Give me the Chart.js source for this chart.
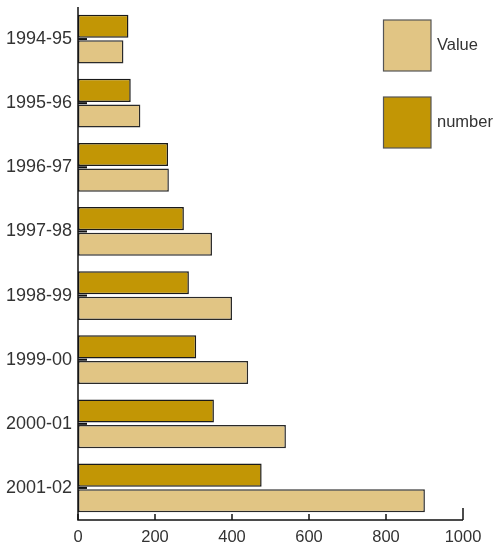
<!DOCTYPE html>
<html>
<head>
<meta charset="utf-8">
<script src="https://cdn.jsdelivr.net/npm/chart.js@4.4.0/dist/chart.umd.min.js"></script>
<style>
html,body{margin:0;padding:0;background:#fff;}
#wrap{position:relative;width:498px;height:549px;}
</style>
</head>
<body>
<div id="wrap"><canvas id="c" width="498" height="549"></canvas></div>
<script>
const categories = ["1994-95","1995-96","1996-97","1997-98","1998-99","1999-00","2000-01","2001-02"];
const numberValues = [131, 137, 234, 275, 288, 307, 353, 477];
const valueValues = [118, 162, 236, 348, 400, 442, 540, 901];
const xTicks = [0, 200, 400, 600, 800, 1000];

const LIGHT = "rgb(225,197,132)";
const DARK = "rgb(194,150,5)";
const TEXT = "#333333";
const FONT = "'Liberation Sans', Arial, sans-serif";

const inwardTicks = {
  id: "inwardTicks",
  beforeDatasetsDraw(chart) {
    const ctx = chart.ctx;
    const ys = chart.scales.y;
    ctx.save();
    ctx.strokeStyle = "#111";
    ctx.lineWidth = 2;
    categories.forEach((c, i) => {
      const py = ys.getPixelForValue(i);
      ctx.beginPath();
      ctx.moveTo(ys.right, py);
      ctx.lineTo(ys.right + 9, py);
      ctx.stroke();
    });
    ctx.restore();
  },
  afterDraw(chart) {
    const ctx = chart.ctx;
    const xs = chart.scales.x;
    const ys = chart.scales.y;
    ctx.save();
    ctx.strokeStyle = "#111";
    ctx.lineWidth = 1.5;
    ctx.beginPath();
    ctx.moveTo(xs.left, ys.top);
    ctx.lineTo(xs.left, xs.top);
    ctx.lineTo(xs.right, xs.top);
    ctx.stroke();
    xTicks.forEach((v, i) => {
      const px = xs.getPixelForValue(v);
      const len = (i === xTicks.length - 1) ? 12 : 6;
      ctx.beginPath();
      ctx.moveTo(px, xs.top);
      ctx.lineTo(px, xs.top - len);
      ctx.stroke();
    });
    const order = [1, 0];
    const boxL = 383.5, boxW = 47.5, boxH = 51;
    const tops = [20, 97];
    ctx.font = "16.5px " + FONT;
    ctx.textBaseline = "middle";
    order.forEach((di, k) => {
      const ds = chart.data.datasets[di];
      const t = tops[k];
      ctx.fillStyle = ds.backgroundColor;
      ctx.fillRect(boxL, t, boxW, boxH);
      ctx.strokeStyle = "#555";
      ctx.lineWidth = 1.2;
      ctx.strokeRect(boxL, t, boxW, boxH);
      ctx.fillStyle = TEXT;
      ctx.textAlign = "left";
      ctx.fillText(ds.label, 437, t + boxH / 2);
    });
    ctx.restore();
  }
};

new Chart(document.getElementById("c"), {
  type: "bar",
  data: {
    labels: categories,
    datasets: [
      { label: "number", data: numberValues, backgroundColor: DARK, borderColor: "#1a1a1a", borderWidth: 1.5, borderSkipped: false },
      { label: "Value", data: valueValues, backgroundColor: LIGHT, borderColor: "#2a2a2a", borderWidth: 1.5, borderSkipped: false }
    ]
  },
  options: {
    indexAxis: "y",
    responsive: false,
    animation: false,
    devicePixelRatio: 1,
    layout: { padding: { top: 7, right: 35, left: 0, bottom: 0 } },
    plugins: { legend: { display: false }, tooltip: { enabled: false } },
    datasets: { bar: { categoryPercentage: 0.8, barPercentage: 0.9 } },
    scales: {
      y: {
        type: "category",
        grid: { display: false, drawTicks: false },
        border: { display: false },
        ticks: { color: TEXT, padding: 6, font: { family: FONT, size: 18 } },
        afterFit(s) { s.width = 78; s.paddingTop = 0; s.paddingBottom = 0; }
      },
      x: {
        type: "linear",
        min: 0, max: 1000,
        afterBuildTicks(s) { s.ticks = xTicks.map(v => ({ value: v })); },
        grid: { display: false, drawTicks: false },
        border: { display: false },
        ticks: { color: TEXT, padding: 8, maxRotation: 0, callback: (v) => String(v), font: { family: FONT, size: 16.5 } },
        afterFit(s) { s.height = 29; s.paddingLeft = 0; s.paddingRight = 0; }
      }
    }
  },
  plugins: [inwardTicks]
});
</script>
</body>
</html>
